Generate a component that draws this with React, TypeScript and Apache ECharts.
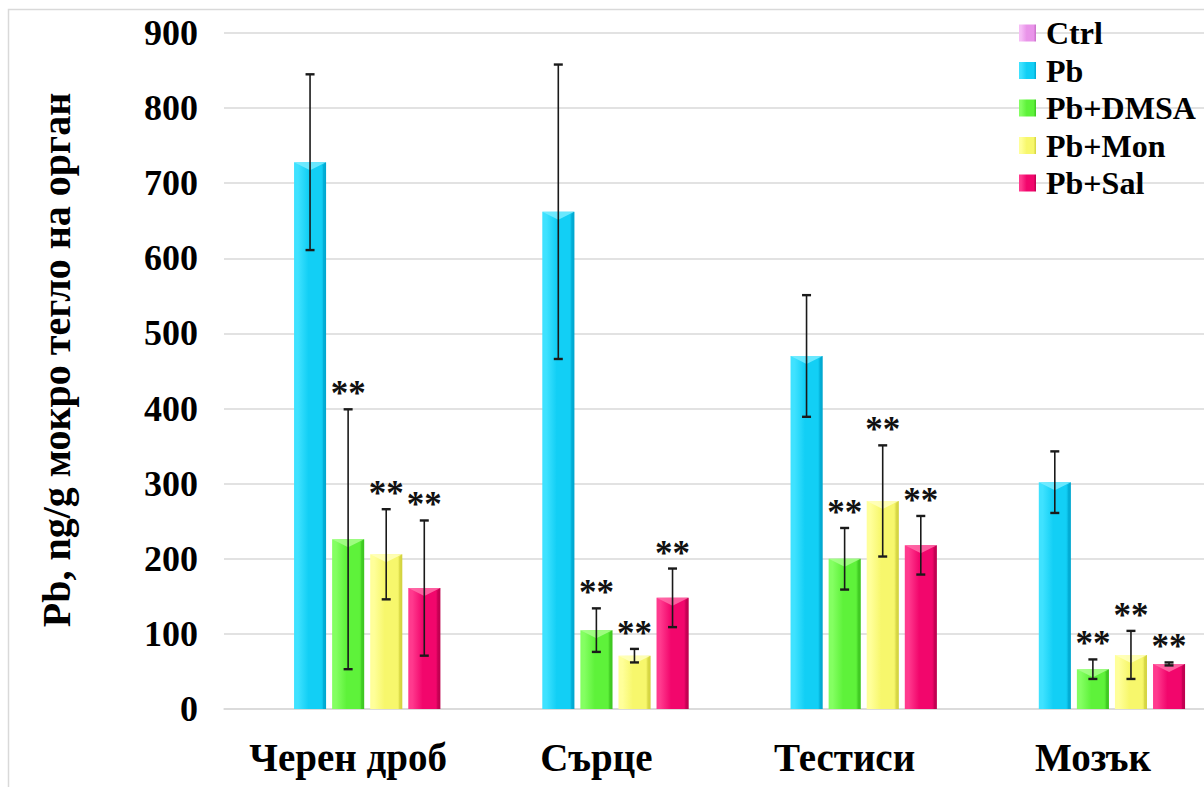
import React, { useEffect, useRef } from "react";
import * as echarts from "echarts";

// Organs (x categories)
const organs = ["Черен дроб", "Сърце", "Тестиси", "Мозък"];

// Treatment groups
const groups = ["Ctrl", "Pb", "Pb+DMSA", "Pb+Mon", "Pb+Sal"];

// Mean Pb content, ng/g wet organ weight
const ctrlMean = [0, 0, 0, 0];
const pbMean = [728, 662, 470, 302];
const dmsaMean = [226, 105, 200, 53];
const monMean = [206, 71, 277, 72];
const salMean = [161, 148, 218, 60];

// Error bar half-lengths
const ctrlErr = [0, 0, 0, 0];
const pbErr = [117, 196, 81, 41];
const dmsaErr = [173, 29, 41, 13];
const monErr = [60, 9, 74, 32];
const salErr = [90, 39, 39, 2];

// Significance marks
const ctrlSig = ["", "", "", ""];
const pbSig = ["", "", "", ""];
const dmsaSig = ["**", "**", "**", "**"];
const monSig = ["**", "**", "**", "**"];
const salSig = ["**", "**", "**", "**"];

const yTicks = { min: 0, max: 900, interval: 100 };

const means = [ctrlMean, pbMean, dmsaMean, monMean, salMean];
const errs = [ctrlErr, pbErr, dmsaErr, monErr, salErr];
const sigs = [ctrlSig, pbSig, dmsaSig, monSig, salSig];

const palette = [
  { base: "#e994e9", light: "#f6bdf6", dark: "#c86ec8", top: "#fbd2fb" },
  { base: "#12cff5", light: "#3fe2ff", dark: "#00a6cf", top: "#7aecff" },
  { base: "#5ef23a", light: "#84ff62", dark: "#3cc520", top: "#a8ff8c" },
  { base: "#f7f76c", light: "#ffff9a", dark: "#d2d23e", top: "#ffffbf" },
  { base: "#f2066c", light: "#ff3a8e", dark: "#bd004f", top: "#ff6fa9" },
];

const FONT = '"Liberation Serif", "Times New Roman", serif';
const BAR_W = 32;
const BAR_GAP = 0.19;
const STEP = BAR_W * (1 + BAR_GAP);

function barFill(p: { base: string; light: string; dark: string }) {
  return new echarts.graphic.LinearGradient(0, 0, 1, 0, [
    { offset: 0, color: p.light },
    { offset: 0.12, color: p.light },
    { offset: 0.45, color: p.base },
    { offset: 0.85, color: p.base },
    { offset: 1, color: p.dark },
  ]);
}

export default function App() {
  const ref = useRef<HTMLDivElement>(null);

  useEffect(() => {
    if (!ref.current) return;
    const chart = echarts.init(ref.current, undefined, { renderer: "svg" });

    const barSeries = groups.map((name, k) => ({
      name,
      type: "bar",
      barWidth: BAR_W,
      barGap: `${BAR_GAP * 100}%`,
      itemStyle: { color: barFill(palette[k]) },
      data: means[k],
      z: 2,
    }));

    // Bevel highlight, error bars and significance marks for each group
    const decoSeries = groups.map((name, k) => ({
      name: name + " (SD)",
      type: "custom",
      z: 3,
      data: organs.map((_, i) => [i, means[k][i], errs[k][i]]),
      renderItem: (params: any, api: any) => {
        const i = api.value(0);
        const v = api.value(1);
        const e = api.value(2);
        const sig = sigs[k][i];
        const off = (k - 2) * STEP;
        const top = api.coord([i, v]);
        const base = api.coord([i, 0]);
        const cx = top[0] + off;
        const children: any[] = [];
        if (v > 0) {
          const x0 = cx - BAR_W / 2;
          const x1 = cx + BAR_W / 2;
          const t = top[1];
          const bevel = Math.min(8, (base[1] - t) / 2);
          children.push({
            type: "polygon",
            shape: { points: [[x0, t], [x1, t], [cx, t + bevel]] },
            style: { fill: palette[k].top, opacity: 0.85 },
          });
          children.push({
            type: "polygon",
            shape: { points: [[x1, t], [x1, base[1]], [x1 - 3, base[1]], [x1 - 3, t + 3]] },
            style: { fill: palette[k].dark, opacity: 0.6 },
          });
        }
        if (e > 0) {
          const hi = api.coord([i, v + e]);
          const lo = api.coord([i, v - e]);
          const stroke = { stroke: "#1a1a1a", lineWidth: 1.6 };
          children.push({ type: "line", shape: { x1: cx, y1: hi[1], x2: cx, y2: lo[1] }, style: stroke });
          children.push({ type: "line", shape: { x1: cx - 4.5, y1: hi[1], x2: cx + 4.5, y2: hi[1] }, style: { stroke: "#1a1a1a", lineWidth: 2.4 } });
          children.push({ type: "line", shape: { x1: cx - 4.5, y1: lo[1], x2: cx + 4.5, y2: lo[1] }, style: { stroke: "#1a1a1a", lineWidth: 2.4 } });
        }
        if (sig) {
          const hi = api.coord([i, v + e]);
          children.push({
            type: "text",
            x: cx,
            y: hi[1] + 2,
            style: {
              text: sig,
              font: `bold 35px ${FONT}`,
              fill: "#111",
              align: "center",
              verticalAlign: "bottom",
            },
          });
        }
        return { type: "group", children };
      },
    }));

    chart.setOption({
      animation: false,
      backgroundColor: "#ffffff",
      grid: { left: 224, top: 33, width: 993, height: 676 },
      legend: {
        data: groups,
        orient: "vertical",
        left: 1019,
        top: 17,
        padding: 0,
        itemWidth: 17,
        itemHeight: 17,
        itemGap: 5.5,
        icon: "rect",
        textStyle: {
          fontFamily: FONT,
          fontWeight: "bold",
          fontSize: 32,
          lineHeight: 32,
          color: "#000",
          padding: [0, 0, 0, 5],
        },
      },
      xAxis: {
        type: "category",
        data: organs,
        axisLine: { show: true, lineStyle: { color: "#d9d9d9", width: 1.5 } },
        axisTick: { show: false },
        axisLabel: {
          interval: 0,
          fontFamily: FONT,
          fontWeight: "bold",
          fontSize: 39,
          color: "#000",
          margin: 29,
        },
      },
      yAxis: {
        type: "value",
        min: yTicks.min,
        max: yTicks.max,
        interval: yTicks.interval,
        axisLine: { show: false },
        axisTick: { show: false },
        splitLine: { lineStyle: { color: "#d9d9d9", width: 1.5 } },
        axisLabel: {
          fontFamily: FONT,
          fontWeight: "bold",
          fontSize: 36,
          color: "#000",
          margin: 26,
        },
      },
      graphic: [
        {
          type: "rect",
          shape: { x: 8.5, y: 9.5, width: 1400, height: 1000 },
          style: { fill: "none", stroke: "#d9d9d9", lineWidth: 1.5 },
          silent: true,
          z: -1,
        },
        {
          type: "text",
          x: 56,
          y: 360,
          rotation: Math.PI / 2,
          style: {
            text: "Pb, ng/g мокро тегло на орган",
            font: `bold 40px ${FONT}`,
            fill: "#000",
            align: "center",
            verticalAlign: "middle",
          },
        },
      ],
      series: [...barSeries, ...decoSeries],
    });

    return () => chart.dispose();
  }, []);

  return (
    <div style={{ position: "absolute", left: 0, top: 0, width: 1204, height: 787, overflow: "hidden", background: "#fff" }}>
      <div ref={ref} style={{ width: 1230, height: 787 }} />
    </div>
  );
}
